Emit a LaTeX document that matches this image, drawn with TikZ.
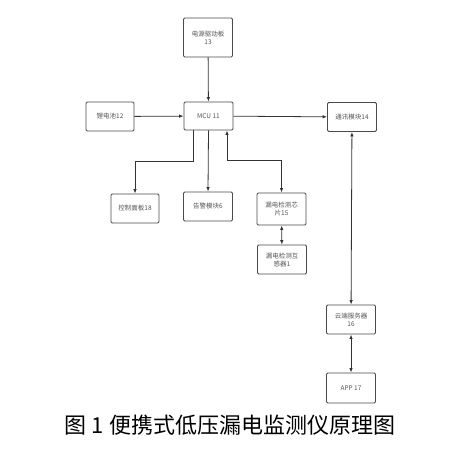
\documentclass[tikz,border=0pt]{standalone}
\usepackage{fontspec}
\setmainfont{Noto Sans CJK SC}
\usepackage{xcolor}
\usepackage{tikz}
\usetikzlibrary{arrows.meta}
\definecolor{boxGray}{HTML}{4A4A4A}
\definecolor{lineGray}{HTML}{333333}
\definecolor{textGray}{HTML}{555555}

\tikzset{
    blockbox/.style={draw=boxGray, line width=0.9pt, rounded corners=1.2pt, fill=white,
        minimum width=49pt, minimum height=29pt, inner sep=1pt, align=center,
        font=\fontsize{6.5}{8}\selectfont, text=textGray},
    conn/.style={line width=0.8pt, lineGray, -{Latex[length=4.5pt,width=3.5pt]}},
    biconn/.style={line width=0.8pt, lineGray, {Latex[length=4.5pt,width=3.5pt]}-{Latex[length=4.5pt,width=3.5pt]}}
}

\begin{document}
\begin{tikzpicture}[x=1pt, y=-1pt]
        \useasboundingbox (0,0) rectangle (462,448);

        \node (psu) [blockbox, minimum height=39pt] at (208,37.5) {电源驱动板\\13};
        \node (bat) [blockbox, minimum width=48pt] at (110,116.5) {锂电池12};
        \node (mcu) [blockbox, minimum height=28pt] at (208.5,116) {MCU 11};
        \node (com) [blockbox] at (352,117) {通讯模块14};

        \node (panel) [blockbox, minimum width=48pt] at (135,208.5) {控制面板18};
        \node (alarm) [blockbox] at (208,206.5) {告警模块6};
        \node (chip) [blockbox, minimum height=32pt] at (281.5,209) {漏电检测芯\\片15};
        \node (ct) [blockbox] at (282,259.5) {漏电检测互\\感器1};

        \node (cloud) [blockbox] at (351,319.5) {云端服务器\\16};
        \node (app) [blockbox, minimum height=30pt] at (351,388) {APP 17};

        \draw[conn] (psu) -- (mcu);
        \draw[conn] (bat) -- (mcu);
        \draw[conn] (mcu) -- (com);
        \draw[conn] ([xshift=-15.5pt]mcu.south) -- ++(0,31) -| (panel.north);
        \draw[conn] (mcu.south) -- (alarm.north);
        \draw[biconn] ([xshift=18.5pt]mcu.south) -- ++(0,30) -| (chip.north);
        \draw[biconn] (chip) -- (ct);
        \draw[biconn] (com) -- (cloud);
        \draw[biconn] (cloud) -- (app);

        \node (caption) at (230,425) {\fontsize{22}{26}\selectfont 图 1 便携式低压漏电监测仪原理图};
\end{tikzpicture}
\end{document}
